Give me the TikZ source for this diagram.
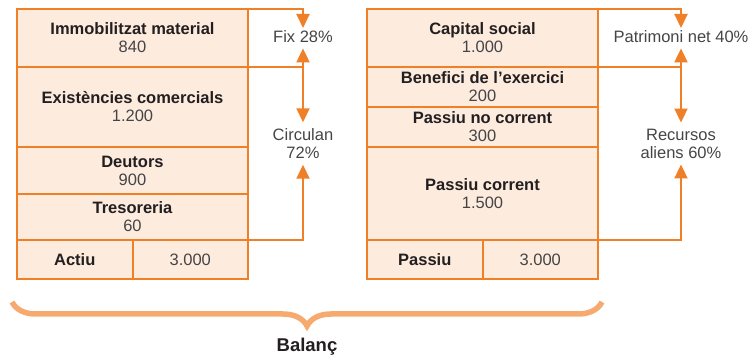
\documentclass[tikz,border=0pt]{standalone}
\usepackage{fontspec}
\setmainfont{Liberation Sans}
\usepackage{tikz}
\usepackage{xcolor}
\usetikzlibrary{positioning, arrows.meta, decorations.pathreplacing}
\definecolor{blorange}{RGB}{240, 128, 40}
\definecolor{blpeach}{RGB}{253, 236, 222}
\definecolor{blbrace}{RGB}{247, 170, 112}
\definecolor{bltext}{RGB}{35, 31, 32}
\definecolor{blnum}{RGB}{70, 68, 70}
\tikzset{
    cell/.style={rectangle, draw=blorange, line width=2pt, fill=blpeach, outer sep=0pt,
        minimum width=231pt, align=center, font=\fontsize{16.5}{18}\selectfont, text=blnum},
    halfcell/.style={cell, minimum width=115.5pt, minimum height=39pt},
    share/.style={align=center, inner xsep=0pt, inner ysep=2.5pt, text height=12pt, text depth=3pt,
        font=\fontsize{16.5}{18}\selectfont, text=blnum},
    share2/.style={align=center, inner xsep=0pt, inner ysep=6pt,
        font=\fontsize{16.5}{18}\selectfont, text=blnum},
    link/.style={draw=blorange, line width=2pt},
    arrowlink/.style={link, -{Triangle[width=13pt,length=14pt]}},
    bothlink/.style={link, {Triangle[width=13pt,length=14pt]}-{Triangle[width=13pt,length=14pt]}}
}
\newcommand{\lbl}[2]{\textbf{\color{bltext}#1}\\#2}

\begin{document}
\begin{tikzpicture}[x=1pt, y=-1pt]
    \useasboundingbox (0,0) rectangle (753,358);
    % actiu
    \node[cell, minimum height=58pt, anchor=north west] (immo) at (17,9) {\lbl{Immobilitzat material}{840}};
    \node[cell, minimum height=80pt, below=0pt of immo] (exist) {\lbl{Existències comercials}{1.200}};
    \node[cell, minimum height=47pt, below=0pt of exist] (deut) {\lbl{Deutors}{900}};
    \node[cell, minimum height=46pt, below=0pt of deut] (treso) {\lbl{Tresoreria}{60}};
    \node[halfcell, anchor=north west] (actiu) at (treso.south west) {\textbf{\color{bltext}Actiu}};
    \node[halfcell, right=0pt of actiu] (actiuval) {3.000};
    % passiu
    \node[cell, minimum height=58pt, anchor=north west] (capital) at (367,9) {\lbl{Capital social}{1.000}};
    \node[cell, minimum height=40pt, below=0pt of capital] (benef) {\lbl{Benefici de l’exercici}{200}};
    \node[cell, minimum height=40pt, below=0pt of benef] (pnc) {\lbl{Passiu no corrent}{300}};
    \node[cell, minimum height=93pt, below=0pt of pnc] (pc) {\lbl{Passiu corrent}{1.500}};
    \node[halfcell, anchor=north west] (passiu) at (pc.south west) {\textbf{\color{bltext}Passiu}};
    \node[halfcell, right=0pt of passiu] (passiuval) {3.000};
    % masses
    \node[share, anchor=north] (fix) at (303,28) {Fix 28\%};
    \node[share2] (circ) at (303,143.5) {Circulan\\72\%};
    \node[share, anchor=north] (pn) at (681,28) {Patrimoni net 40\%};
    \node[share2] (ra) at (681,143.5) {Recursos\\aliens 60\%};
    \draw[arrowlink] (immo.north east) -| (fix.north);
    \draw[link] (immo.south east) -- (immo.south east -| fix.south);
    \draw[bothlink] (fix.south) -- (circ.north);
    \draw[arrowlink] (treso.south east) -| (circ.south);
    \draw[arrowlink] (capital.north east) -| (pn.north);
    \draw[link] (capital.south east) -- (capital.south east -| pn.south);
    \draw[bothlink] (pn.south) -- (ra.north);
    \draw[arrowlink] (pc.south east) -| (ra.south);
    % balanc
    \coordinate (bleft) at (12,302);
    \coordinate (bright) at (602,302);
    \draw[blbrace, line width=5.5pt, decorate, decoration={brace, mirror, amplitude=24pt}] (bleft) -- (bright);
    \node[font=\fontsize{18.5}{20}\selectfont\bfseries, text=bltext] (balanc) at (307,347) {Balanç};
\end{tikzpicture}
\end{document}
